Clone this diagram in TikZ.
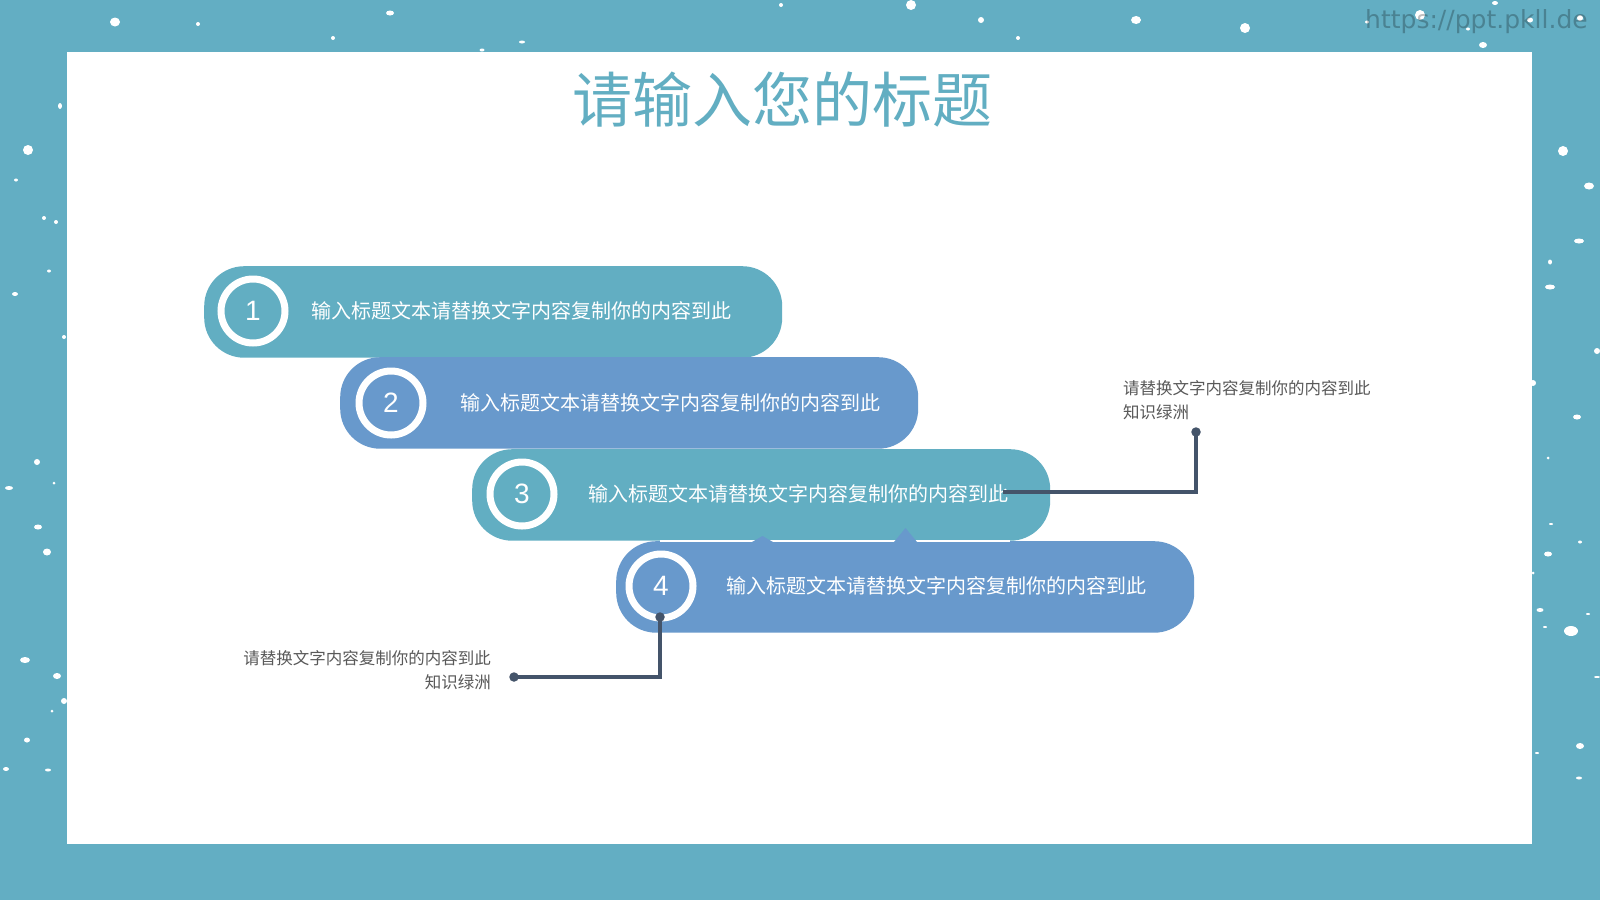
\documentclass[tikz,border=0pt]{standalone}
\usepackage{fontspec}
\setmainfont{Liberation Sans}
\newfontfamily\cjk{Noto Sans CJK SC}
\newfontfamily\wmfont{DejaVu Sans}
\definecolor{framec}{HTML}{63AEC3}
\definecolor{tealc}{HTML}{62AEC2}
\definecolor{bluec}{HTML}{6899CC}
\definecolor{conncol}{HTML}{44546A}
\definecolor{labelgray}{HTML}{595959}
\begin{document}
\begin{tikzpicture}[x=1pt,y=-1pt,
  pill/.style={rectangle, rounded corners=40pt, minimum width=578pt, minimum height=91.5pt, inner sep=0pt, anchor=north west},
  ring/.style={circle, draw=white, line width=7pt, minimum size=64pt, inner sep=0pt, text=white, font=\fontsize{28}{30}\selectfont},
  ptext/.style={anchor=base west, text=white, inner sep=0pt, font=\cjk\fontsize{20}{24}\selectfont},
  lbl/.style={text=labelgray, inner sep=0pt, font=\cjk\fontsize{16.5}{24}\selectfont},
  conn/.style={draw=conncol, line width=3.2pt},
  dot/.style={circle, fill=conncol, minimum size=9.5pt, inner sep=0pt},
  snow/.style={fill=white}]
\useasboundingbox (0,0) rectangle (1600,900);
\fill[framec] (0,0) rectangle (1600,900);
% snow
\foreach \x/\y/\a/\b in {115/22/5/4.5,198/24/2/2,333/38/2/2,390/13/4/2.5,482/50/2.5/1.5,522/42/3/1.5,60/106/2/3,28/150/5/5,16/180/2/1.5,44/218/2/2,56/222/2/2,49/271/2/1.5,15/294/3/2,64/337/2/2,
  781/5/2/2,911/5/5/5,981/20/3/3,1018/38/2/2,1136/20/5/4,1245/28/5/5,1420/15/5/5,1367/22/2/1.5,1495/3/3/2,1468/29/2/1.5,1483/45/4/3,1530/20/3/2.5,1580/18/3/3,
  37/462/3/3,9/488/4/2,54/483/1.5/1.5,38/527/4/2.5,47/552/4/3.5,25/660/5/3,57/676/4/3,64/701/3/3,52/711/1.5/1.5,27/740/3/2.5,6/769/3/2,48/770/3/1.5,
  1563/151/5/5,1589/186/5/3.5,1579/241/5/2.5,1550/262/2/2.5,1550/287/5/2.5,1597/351/3/3,1533/383/3/3,1577/417/4/2.5,1548/458/1.5/1.5,1551/524/2/1,1580/542/2/1.5,1548/554/4/2.5,1533/573/1.5/1.5,1540/610/3.5/2,1571/631/7/5,1588/614/2/1,1545/627/2/1,1597/677/3/1,1580/746/4/3,1537/753/2/1,1579/778/3/1.5}
  {\fill[snow] (\x,\y) ellipse [x radius=\a, y radius=\b];}
% panel
\fill[white] (67,52) rectangle (1532,844);
% pills
\node[pill, fill=tealc] (p1) at (204,266) {};
\node[pill, fill=bluec] (p2) at (340,357) {};
\node[pill, fill=tealc] (p3) at (472,449) {};
\node[pill, fill=bluec] (p4) at (616,541) {};
\draw[white, line width=1.2pt] (660,541) -- (1010,541);
\fill[bluec] (894,542) -- (905.5,528) -- (917,542) -- cycle;
\fill[bluec] (752,542) -- (762.5,536) -- (773,542) -- cycle;
% rings
\node[ring] (r1) at (253,311) {1};
\node[ring] (r2) at (391,403) {2};
\node[ring] (r3) at (522,494) {3};
\node[ring] (r4) at (661,586) {4};
% pill texts
\node[ptext] (t1) at (311,318.5) {输入标题文本请替换文字内容复制你的内容到此};
\node[ptext] (t2) at (460,410.5) {输入标题文本请替换文字内容复制你的内容到此};
\node[ptext] (t3) at (588,501.5) {输入标题文本请替换文字内容复制你的内容到此};
\node[ptext] (t4) at (726,593.5) {输入标题文本请替换文字内容复制你的内容到此};
% connectors
\coordinate (a1) at (1003,492);
\node[dot] (d1) at (1196,432) {};
\draw[conn] (a1) -| (d1.center);
\node[dot] (d2) at (660,617) {};
\node[dot] (d3) at (514,677) {};
\draw[conn] (d2.center) |- (d3.center);
% labels
\node[lbl, anchor=base west] (l1) at (1123,394) {请替换文字内容复制你的内容到此};
\node[lbl, anchor=base west] (l2) at (1123,418) {知识绿洲};
\node[lbl, anchor=base east] (l3) at (491,664) {请替换文字内容复制你的内容到此};
\node[lbl, anchor=base east] (l4) at (491,688) {知识绿洲};
% title
\node[anchor=base, text=tealc, inner sep=0pt, font=\cjk\fontsize{60}{66}\selectfont] (title) at (782,122) {请输入您的标题};
% watermark
\node[anchor=base west, inner sep=0pt, text=black, text opacity=0.25, font=\wmfont\fontsize{25}{28}\selectfont] (wm) at (1365,28) {https://ppt.pkll.de};
\end{tikzpicture}
\end{document}
